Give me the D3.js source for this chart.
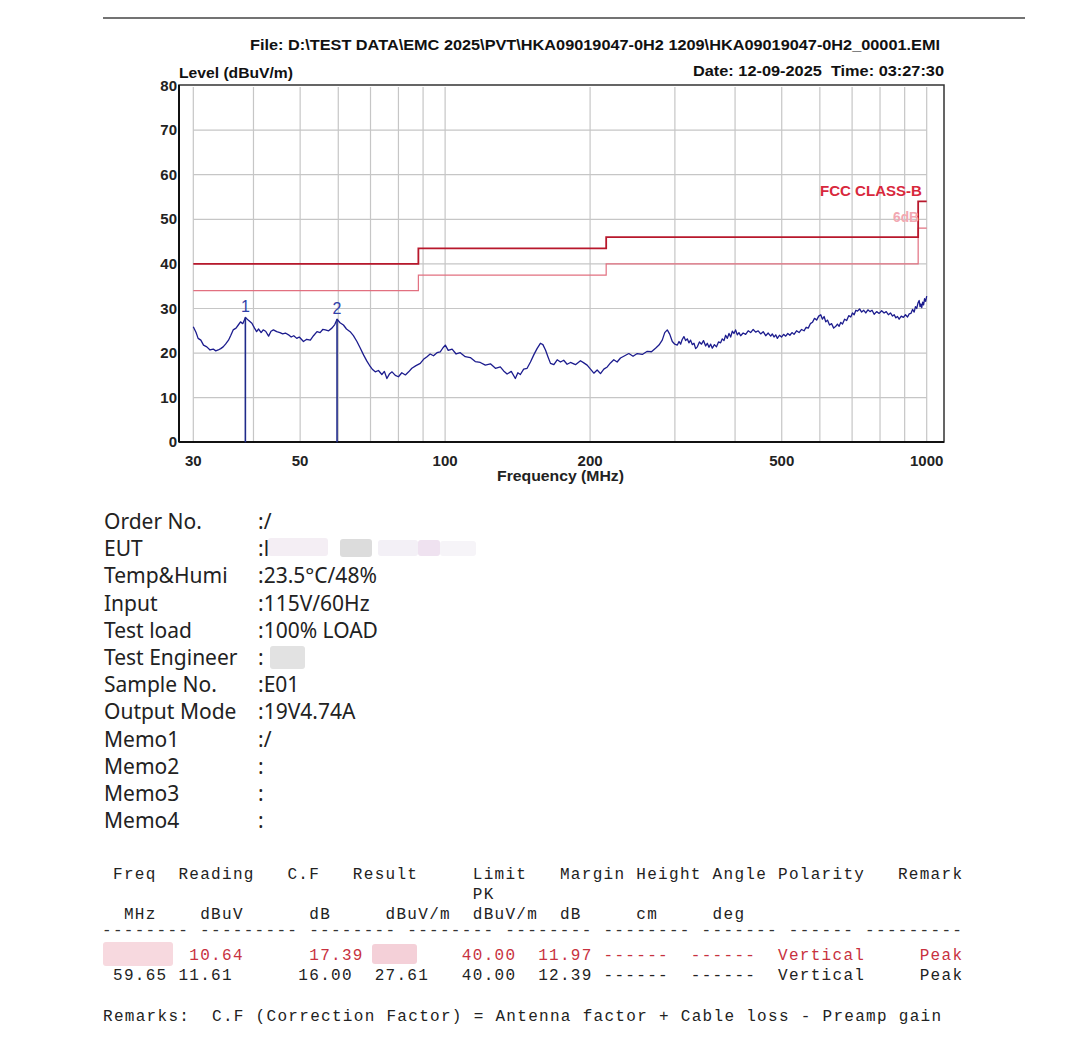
<!DOCTYPE html>
<html>
<head>
<meta charset="utf-8">
<script src="https://cdn.jsdelivr.net/npm/d3@7"></script>
<style>
  body { margin: 0; background: #fff; }
  svg text { white-space: pre; }
</style>
</head>
<body>
<svg id="chart" width="1080" height="1039"></svg>
<script>
// ---- data ----
var headerFile = "File: D:\\TEST DATA\\EMC 2025\\PVT\\HKA09019047-0H2 1209\\HKA09019047-0H2_00001.EMI";
var headerDate = "Date: 12-09-2025  Time: 03:27:30";

var yTicks = [0, 10, 20, 30, 40, 50, 60, 70, 80];
var xTickLabels = [30, 50, 100, 200, 500, 1000];
var xGridFreqs = [30, 40, 50, 60, 70, 80, 90, 100, 200, 300, 400, 500, 600, 700, 800, 900, 1000];

// FCC class B limit and the 6dB margin line (step after each freq)
var limitFreq = [30, 88, 216, 960, 1000];
var limitLevel = [40, 43.5, 46, 54, 54];
var marginLevel = [34, 37.5, 40, 48, 48];

// peak scan trace, [MHz, dBuV/m]
var trace = [
  [30.0, 25.9], [30.4, 24.6], [30.7, 23.3], [31.1, 22.9], [31.5, 21.8], [32.0, 21.4], [32.5, 20.7], [33.0, 20.9],
  [33.4, 20.5], [33.8, 20.7], [34.2, 21.0], [34.6, 21.4], [35.0, 22.0], [35.5, 22.9], [35.9, 24.0], [36.3, 25.2],
  [36.8, 25.6], [37.2, 26.3], [37.6, 27.0], [38.0, 26.6], [38.5, 28.0], [39.0, 27.4], [39.7, 26.7], [40.2, 25.6],
  [40.6, 24.8], [41.0, 25.4], [41.5, 24.6], [41.9, 25.2], [42.4, 24.9], [43.0, 23.8], [43.5, 24.9], [44.0, 25.2],
  [44.7, 24.8], [45.4, 24.6], [46.0, 24.3], [46.6, 24.5], [47.3, 24.1], [47.9, 23.6], [48.5, 23.9], [49.2, 23.3],
  [49.8, 23.6], [50.8, 22.6], [51.6, 23.1], [52.5, 22.9], [53.3, 23.9], [54.2, 24.8], [55.0, 24.6], [55.7, 25.3],
  [56.4, 25.2], [57.3, 25.0], [58.2, 25.6], [59.0, 26.4], [59.65, 27.6], [60.5, 26.8], [61.5, 26.3], [62.4, 25.4],
  [63.5, 24.8], [64.5, 23.9], [65.6, 22.6], [66.6, 21.2], [67.7, 19.6], [68.8, 18.2], [69.9, 17.0], [70.7, 16.3],
  [71.6, 15.8], [72.7, 16.1], [73.9, 15.2], [74.8, 15.9], [75.7, 14.3], [76.6, 15.3], [77.6, 15.8], [78.8, 15.0],
  [80.0, 14.7], [81.3, 15.6], [82.7, 15.1], [84.0, 15.8], [85.3, 16.6], [87.0, 17.2], [88.8, 17.7], [90.2, 18.6],
  [91.7, 19.2], [93.1, 19.8], [94.6, 19.4], [96.2, 20.1], [97.7, 20.3], [99.0, 21.2], [100.1, 21.8], [101.5, 20.6],
  [103.4, 20.9], [105.4, 19.8], [107.5, 20.1], [110.1, 19.2], [112.8, 19.0], [115.5, 18.1], [118.3, 17.9], [121.2, 17.3],
  [124.2, 17.6], [127.2, 16.6], [130.2, 16.9], [132.3, 16.0], [134.5, 15.3], [137.2, 15.9], [139.9, 14.3], [141.6, 15.6],
  [143.3, 15.2], [145.6, 16.4], [148.0, 16.6], [150.4, 18.0], [152.8, 19.6], [155.2, 21.0], [157.7, 22.2], [159.6, 21.9],
  [161.6, 20.7], [163.5, 19.2], [165.5, 17.7], [168.2, 17.4], [170.9, 18.5], [173.6, 18.0], [176.3, 18.4], [179.2, 17.5],
  [182.1, 17.9], [186.5, 17.4], [191.0, 18.3], [194.1, 17.8], [197.2, 17.3], [200.4, 16.4], [203.6, 15.5], [206.9, 16.2],
  [210.2, 15.4], [213.6, 16.4], [217.1, 16.9], [220.5, 17.8], [224.0, 18.5], [227.6, 18.0], [231.3, 18.9], [236.0, 19.4],
  [240.7, 19.9], [245.6, 19.3], [250.6, 19.9], [256.7, 19.7], [262.9, 20.4], [268.2, 20.3], [273.5, 21.1], [278.0, 21.8],
  [282.4, 22.9], [285.8, 24.6], [289.3, 25.2], [292.8, 24.2], [296.3, 22.6], [299.9, 22.0], [303.5, 21.8], [306.0, 22.6],
  [308.3, 22.0], [310.5, 23.0], [313.2, 23.7], [315.8, 22.8], [318.3, 23.2], [320.8, 22.3], [323.4, 22.9], [326.0, 21.9],
  [328.7, 22.2], [331.3, 21.0], [334.0, 21.4], [337.3, 22.5], [340.7, 22.0], [344.0, 22.8], [347.5, 21.6], [350.3, 22.2],
  [353.1, 21.3], [356.0, 22.0], [358.8, 21.1], [362.4, 21.9], [366.0, 21.4], [369.6, 22.5], [373.3, 22.3], [376.3, 23.2],
  [379.4, 22.8], [382.4, 24.0], [385.5, 23.3], [388.6, 24.4], [391.7, 23.6], [394.8, 24.9], [397.9, 24.4], [401.0, 25.2],
  [404.3, 24.1], [407.5, 24.6], [410.8, 23.9], [415.8, 24.5], [420.8, 24.2], [425.9, 25.0], [431.0, 24.6], [436.2, 25.3],
  [441.5, 24.7], [446.8, 25.0], [452.1, 24.3], [457.6, 24.8], [463.1, 23.9], [468.7, 24.5], [474.3, 23.8], [478.0, 24.3],
  [481.9, 23.6], [485.8, 24.1], [489.7, 23.3], [494.6, 24.0], [499.5, 23.6], [504.5, 24.2], [509.6, 23.8], [514.7, 24.4],
  [519.9, 24.0], [525.1, 24.6], [530.3, 24.2], [536.7, 25.0], [543.2, 24.6], [549.7, 25.3], [556.3, 25.0], [561.9, 25.8],
  [567.6, 25.6], [573.3, 26.6], [579.1, 26.9], [584.9, 27.8], [590.8, 27.4], [596.7, 28.3], [602.6, 28.6], [607.4, 27.6],
  [612.3, 28.2], [617.2, 27.0], [622.2, 27.4], [628.4, 26.3], [634.7, 26.6], [641.0, 25.6], [647.4, 26.0], [652.6, 26.5],
  [657.9, 26.0], [663.2, 26.9], [668.6, 26.5], [675.3, 27.6], [682.0, 27.3], [688.8, 28.4], [695.6, 28.1], [701.2, 29.0],
  [706.9, 28.6], [712.6, 29.6], [718.3, 29.4], [725.5, 29.9], [732.7, 29.2], [740.0, 29.6], [747.4, 29.0], [754.9, 29.7],
  [762.5, 29.3], [770.1, 29.6], [777.8, 28.7], [787.2, 29.3], [796.7, 28.9], [806.2, 29.5], [815.8, 29.0], [824.1, 29.3],
  [832.5, 28.6], [840.9, 29.0], [849.3, 28.3], [856.1, 28.6], [862.9, 27.9], [869.7, 28.2], [876.5, 27.6], [885.5, 28.3],
  [894.5, 28.0], [903.5, 28.6], [912.5, 28.1], [919.8, 28.8], [927.2, 28.9], [934.5, 29.8], [941.9, 29.2], [947.6, 30.4],
  [953.3, 30.0], [959.0, 31.2], [964.7, 31.8], [968.6, 30.4], [972.6, 31.0], [976.6, 30.2], [980.6, 31.4], [985.3, 30.8],
  [990.0, 32.2], [995.0, 31.6], [1000.0, 32.8]
];

// final measurement markers
var markerNames = ["1", "2"];
var markerFreq = [38.48, 59.65];
var markerLevel = [28.03, 27.61];

// test info block
var infoLabels = ["Order No.", "EUT", "Temp&Humi", "Input", "Test load", "Test Engineer", "Sample No.",
  "Output Mode", "Memo1", "Memo2", "Memo3", "Memo4"];
var infoValues = [":/", ":l", ":23.5\u00b0C/48%", ":115V/60Hz", ":100% LOAD", ":", ":E01", ":19V4.74A", ":/", ":", ":", ":"];

// result table (monospace rows)
var tableHead1 = "Freq  Reading   C.F   Result     Limit   Margin Height Angle Polarity   Remark";
var tableHead2 = "                                 PK";
var tableHead3 = " MHz    dBuV      dB     dBuV/m  dBuV/m  dB     cm     deg";
var tableDash = "-------- --------- -------- -------- -------- -------- ------- ------ ---------";
var tableRow1 = "       10.64      17.39         40.00  11.97 ------  ------  Vertical     Peak";
var tableRow2 = "59.65 11.61      16.00  27.61   40.00  12.39 ------  ------  Vertical     Peak";
var tableRemark = "Remarks:  C.F (Correction Factor) = Antenna factor + Cable loss - Preamp gain";

// ---- drawing ----
var svg = d3.select("#chart");

var box = { left: 179, right: 944, top: 85, bottom: 442 };

var x = d3.scaleLog().domain([30, 1000]).range([193.3, 926.7]);
var y = d3.scaleLinear().domain([0, 80]).range([442.3, 85.5]);

var axisFont = "'Liberation Sans', Arial, sans-serif";

// top rule
svg.append("line")
  .attr("x1", 103).attr("x2", 1025).attr("y1", 18).attr("y2", 18)
  .attr("stroke", "#444").attr("stroke-width", 1.5);

svg.append("text")
  .attr("x", 250).attr("y", 50)
  .attr("textLength", 690).attr("lengthAdjust", "spacingAndGlyphs")
  .style("font", "bold 14px " + axisFont).attr("fill", "#111")
  .text(headerFile);

svg.append("text")
  .attr("x", 693).attr("y", 76)
  .attr("textLength", 251).attr("lengthAdjust", "spacingAndGlyphs")
  .style("font", "bold 14px " + axisFont).attr("fill", "#111")
  .text(headerDate);

svg.append("text")
  .attr("x", 179).attr("y", 78)
  .attr("textLength", 114).attr("lengthAdjust", "spacingAndGlyphs")
  .style("font", "bold 14px " + axisFont).attr("fill", "#111")
  .text("Level (dBuV/m)");

// grid
svg.append("g").selectAll("line")
  .data(xGridFreqs)
  .enter().append("line")
  .attr("x1", function(d) { return x(d); })
  .attr("x2", function(d) { return x(d); })
  .attr("y1", box.top + 2).attr("y2", box.bottom)
  .attr("stroke", "#c6c6c6").attr("stroke-width", 1.2);

svg.append("g").selectAll("line")
  .data(yTicks.filter(function(d) { return d > 0 && d < 80; }))
  .enter().append("line")
  .attr("x1", x(30)).attr("x2", x(1000))
  .attr("y1", function(d) { return y(d); })
  .attr("y2", function(d) { return y(d); })
  .attr("stroke", "#c6c6c6").attr("stroke-width", 1.2);

// frame
svg.append("rect")
  .attr("x", box.left).attr("y", box.top)
  .attr("width", box.right - box.left).attr("height", box.bottom - box.top)
  .attr("fill", "none").attr("stroke", "#333").attr("stroke-width", 1.5);
svg.append("line")
  .attr("x1", box.left).attr("x2", box.left).attr("y1", box.top).attr("y2", box.bottom)
  .attr("stroke", "#111").attr("stroke-width", 2);
svg.append("line")
  .attr("x1", box.left).attr("x2", box.right).attr("y1", box.bottom).attr("y2", box.bottom)
  .attr("stroke", "#111").attr("stroke-width", 2);

// y tick labels
svg.append("g").selectAll("text")
  .data(yTicks)
  .enter().append("text")
  .attr("x", 177)
  .attr("y", function(d) { return y(d) + 5; })
  .attr("text-anchor", "end")
  .style("font", "bold 15px " + axisFont).attr("fill", "#222")
  .text(function(d) { return d; });

// x tick labels
svg.append("g").selectAll("text")
  .data(xTickLabels)
  .enter().append("text")
  .attr("x", function(d) { return x(d); })
  .attr("y", 466)
  .attr("text-anchor", "middle")
  .style("font", "bold 15px " + axisFont).attr("fill", "#222")
  .text(function(d) { return d; });

svg.append("text")
  .attr("x", 497).attr("y", 481)
  .attr("textLength", 127).attr("lengthAdjust", "spacingAndGlyphs")
  .style("font", "bold 14px " + axisFont).attr("fill", "#222")
  .text("Frequency (MHz)");

// limit lines
var stepLine = d3.line()
  .x(function(d) { return x(d[0]); })
  .y(function(d) { return y(d[1]); })
  .curve(d3.curveStepAfter);

svg.append("path")
  .datum(limitFreq.map(function(f, i) { return [f, marginLevel[i]]; }))
  .attr("d", stepLine)
  .attr("fill", "none").attr("stroke", "#e27080").attr("stroke-width", 1.2);

svg.append("path")
  .datum(limitFreq.map(function(f, i) { return [f, limitLevel[i]]; }))
  .attr("d", stepLine)
  .attr("fill", "none").attr("stroke", "#b8182c").attr("stroke-width", 1.8);

svg.append("text")
  .attr("x", 820).attr("y", 196)
  .attr("textLength", 102).attr("lengthAdjust", "spacingAndGlyphs")
  .style("font", "bold 14px " + axisFont).attr("fill", "#d8283c")
  .text("FCC CLASS-B");

svg.append("text")
  .attr("x", 893).attr("y", 222)
  .attr("textLength", 26).attr("lengthAdjust", "spacingAndGlyphs")
  .style("font", "bold 14px " + axisFont).attr("fill", "#f2a8b2")
  .text("6dB");

// trace
var traceLine = d3.line()
  .x(function(d) { return x(d[0]); })
  .y(function(d) { return y(d[1]); });

svg.append("path")
  .datum(trace)
  .attr("d", traceLine)
  .attr("fill", "none").attr("stroke", "#1c1c8e").attr("stroke-width", 1.3)
  .attr("stroke-linejoin", "round");

// markers
var mk = svg.append("g").selectAll("g")
  .data(markerFreq)
  .enter().append("g");
mk.append("line")
  .attr("x1", function(d) { return x(d); })
  .attr("x2", function(d) { return x(d); })
  .attr("y1", function(d, i) { return y(markerLevel[i]); })
  .attr("y2", y(0))
  .attr("stroke", "#1f2a8a").attr("stroke-width", 1.6);
mk.append("text")
  .attr("x", function(d) { return x(d); })
  .attr("y", function(d, i) { return y(markerLevel[i]) - 5; })
  .attr("text-anchor", "middle")
  .style("font", "16px " + axisFont).attr("fill", "#3040a8")
  .text(function(d, i) { return markerNames[i]; });

// ---- info block ----
var infoFont = "21px 'Noto Sans', 'Open Sans', sans-serif";
var info = svg.append("g");
info.selectAll("text.lab")
  .data(infoLabels)
  .enter().append("text")
  .attr("class", "lab")
  .attr("x", 104)
  .attr("y", function(d, i) { return 529 + i * 27.2; })
  .style("font", infoFont).attr("fill", "#222")
  .text(function(d) { return d; });
info.selectAll("text.val")
  .data(infoValues)
  .enter().append("text")
  .attr("class", "val")
  .attr("x", 258)
  .attr("y", function(d, i) { return 529 + i * 27.2; })
  .style("font", infoFont).attr("fill", "#222")
  .text(function(d) { return d; });

// blurred-out fields in the reference
var blurs = [
  [268, 538, 60, 18, "#f4eef4"], [340, 539, 32, 18, "#dcdcdc"], [378, 540, 40, 16, "#f3f0f6"],
  [418, 540, 22, 16, "#efe2f0"], [440, 541, 36, 15, "#f6f4f8"],
  [270, 646, 35, 23, "#e2e2e2"],
  [103, 942, 70, 24, "#f7d9df"], [372, 944, 45, 20, "#f4d0d8"]
];
svg.append("g").selectAll("rect")
  .data(blurs)
  .enter().append("rect")
  .attr("x", function(d) { return d[0]; })
  .attr("y", function(d) { return d[1]; })
  .attr("width", function(d) { return d[2]; })
  .attr("height", function(d) { return d[3]; })
  .attr("rx", 3)
  .attr("fill", function(d) { return d[4]; });

// ---- result table ----
var monoFont = "16px 'Liberation Mono', 'DejaVu Sans Mono', monospace";
var tableLines = [
  [tableHead1, 113, 879, "#222"],
  [tableHead2, 113, 899, "#222"],
  [tableHead3, 113, 919, "#222"],
  [tableDash, 102, 935, "#333"],
  [tableRow1, 113, 960, "#c8323f"],
  [tableRow2, 113, 980, "#222"],
  [tableRemark, 103, 1021, "#222"]
];
svg.append("g").selectAll("text")
  .data(tableLines)
  .enter().append("text")
  .attr("x", function(d) { return d[1]; })
  .attr("y", function(d) { return d[2]; })
  .attr("fill", function(d) { return d[3]; })
  .style("font", monoFont)
  .style("letter-spacing", "1.3px")
  .text(function(d) { return d[0]; });
</script>
</body>
</html>
